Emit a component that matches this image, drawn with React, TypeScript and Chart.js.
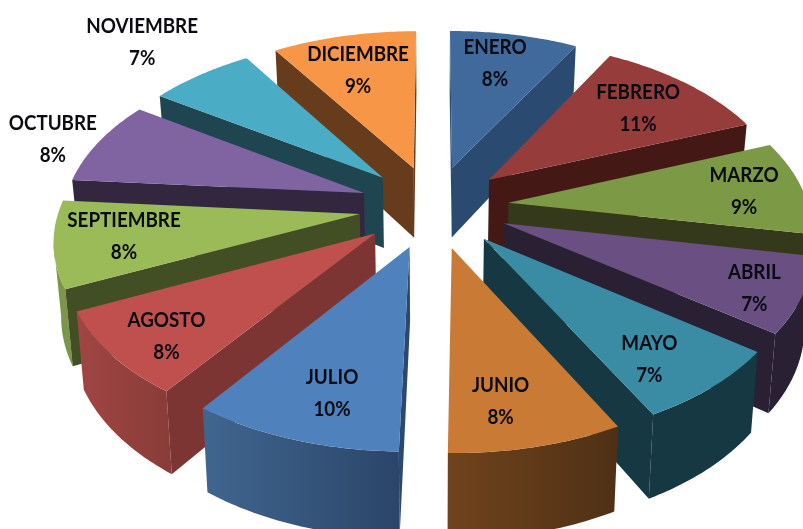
import React, { useEffect, useRef } from "react";
import { Chart, registerables } from "chart.js";

Chart.register(...registerables);

const months = ["ENERO","FEBRERO","MARZO","ABRIL","MAYO","JUNIO","JULIO","AGOSTO","SEPTIEMBRE","OCTUBRE","NOVIEMBRE","DICIEMBRE"];
const shares = [8, 11, 9, 7.2, 7.15, 7.95, 9.6, 8.1, 8.3, 8.1, 6.6, 9];

const topColors = ["#3f6a9b","#963d3b","#7c9a45","#6a4f82","#3a8ca4","#c97a35","#4f81bd","#c0504d","#9bbb59","#8064a2","#4bacc6","#f79646"];
const sideColors = ["#2b4a6f","#441915","#35391c","#2a2033","#163842","#163842","#2c4770","#7d3533","#424f24","#33263f","#1e4550","#663c1c"];
const rimStart = ["#2b4a6f","#5c2422","#5f7533","#2a2033","#163842","#70431c","#40668f","#a04643","#7d964a","#33263f","#1e4550","#663c1c"];
const rimEnd = ["#2b4a6f","#441915","#4d5f2a","#2a2033","#163842","#4f3015","#2b4569","#8a3c39","#7c954a","#33263f","#1e4550","#663c1c"];

const labelRadius = [0.759,0.73,0.8,0.854,0.791,0.786,0.776,0.825,0.774,1.16,1.354,0.719];
const labelTurn = [-1.6,0.5,0.6,1.6,3.4,3.4,-2.2,-2.1,0.4,-2,-0.2,-1.2];

const view = { cx: 434, cy: 206.5, rx: 300, ry: 165, persp: 0.135, explode: 0.25, depth: 72, lean: 0.02 };

type P = { x: number; y: number };

function project(u: number, v: number, lowered: boolean): P {
  const s = 1 / (1 - view.persp * v);
  const x = view.rx * u * s;
  const y = view.cy + view.ry * v * s;
  if (!lowered) return { x: view.cx + x, y };
  return { x: view.cx + x * (1 - view.lean), y: y + view.depth * s };
}

function poly(ctx: CanvasRenderingContext2D, pts: P[], fill: string | CanvasGradient) {
  ctx.beginPath();
  pts.forEach((p, i) => (i ? ctx.lineTo(p.x, p.y) : ctx.moveTo(p.x, p.y)));
  ctx.closePath();
  ctx.fillStyle = fill;
  ctx.fill();
}

const pie3d = {
  id: "pie3d",
  beforeDatasetDraw(chart: any) {
    const ctx: CanvasRenderingContext2D = chart.ctx;
    const arcs: any[] = chart.getDatasetMeta(0).data;
    const slices = arcs.map((arc, i) => {
      const { startAngle, endAngle } = arc.getProps(["startAngle", "endAngle"], true);
      const mid = (startAngle + endAngle) / 2;
      const ox = view.explode * Math.cos(mid);
      const oy = view.explode * Math.sin(mid);
      const outline: [number, number][] = [[ox, oy]];
      const n = 40;
      for (let k = 0; k <= n; k++) {
        const a = startAngle + ((endAngle - startAngle) * k) / n;
        outline.push([ox + Math.cos(a), oy + Math.sin(a)]);
      }
      return { i, mid, outline, sortKey: Math.sin(mid) };
    });
    slices.sort((a, b) => a.sortKey - b.sortKey);

    ctx.save();
    for (const s of slices) {
      const top = s.outline.map(([u, v]) => project(u, v, false));
      const low = s.outline.map(([u, v]) => project(u, v, true));
      const m = top.length;
      const xs = top.slice(1).map((p) => p.x);
      const g = ctx.createLinearGradient(Math.min(...xs), 0, Math.max(...xs), 0);
      g.addColorStop(0, rimStart[s.i]);
      g.addColorStop(1, rimEnd[s.i]);
      // outer rim: one polygon per run of segments that face the viewer
      let k = 1;
      while (k < m - 1) {
        if (top[k + 1].x - top[k].x < 0) {
          let e = k + 1;
          while (e < m - 1 && top[e + 1].x - top[e].x < 0) e++;
          poly(ctx, [...top.slice(k, e + 1), ...low.slice(k, e + 1).reverse()], g);
          k = e;
        } else {
          k++;
        }
      }
      // radial faces
      if (top[1].x - top[0].x < 0) poly(ctx, [top[0], top[1], low[1], low[0]], sideColors[s.i]);
      if (top[0].x - top[m - 1].x < 0) poly(ctx, [top[m - 1], top[0], low[0], low[m - 1]], sideColors[s.i]);
      poly(ctx, top, topColors[s.i]);
    }

    ctx.fillStyle = "#0b0b14";
    ctx.font = 'bold 20px Lato, "Open Sans", sans-serif';
    ctx.textAlign = "center";
    ctx.textBaseline = "middle";
    const values: number[] = chart.data.datasets[0].data;
    const total = values.reduce((a, b) => a + b, 0);
    const squeeze = 0.94;
    for (const s of slices) {
      const a = s.mid + (labelTurn[s.i] * Math.PI) / 180;
      const r = labelRadius[s.i];
      const p = project(view.explode * Math.cos(s.mid) + r * Math.cos(a), view.explode * Math.sin(s.mid) + r * Math.sin(a), false);
      ctx.save();
      ctx.translate(p.x, p.y);
      ctx.scale(squeeze, 1);
      ctx.fillText(chart.data.labels[s.i], 0, -16);
      ctx.fillText(Math.round((values[s.i] / total) * 100) + "%", 0, 16);
      ctx.restore();
    }
    ctx.restore();
    return false;
  },
};

export default function App() {
  const ref = useRef<HTMLCanvasElement | null>(null);
  useEffect(() => {
    if (!ref.current) return;
    const chart = new Chart(ref.current, {
      type: "pie",
      data: {
        labels: months,
        datasets: [{ data: shares, backgroundColor: topColors, borderWidth: 0 }],
      },
      options: {
        responsive: false,
        animation: false,
        plugins: { legend: { display: false }, tooltip: { enabled: false }, title: { display: false } },
      },
      plugins: [pie3d],
    } as any);
    return () => chart.destroy();
  }, []);
  return (
    <div style={{ position: "fixed", left: 0, top: 0, width: 803, height: 529, background: "#fff" }}>
      <canvas ref={ref} width={803} height={529} style={{ display: "block", filter: "blur(0.4px)" }} />
    </div>
  );
}
